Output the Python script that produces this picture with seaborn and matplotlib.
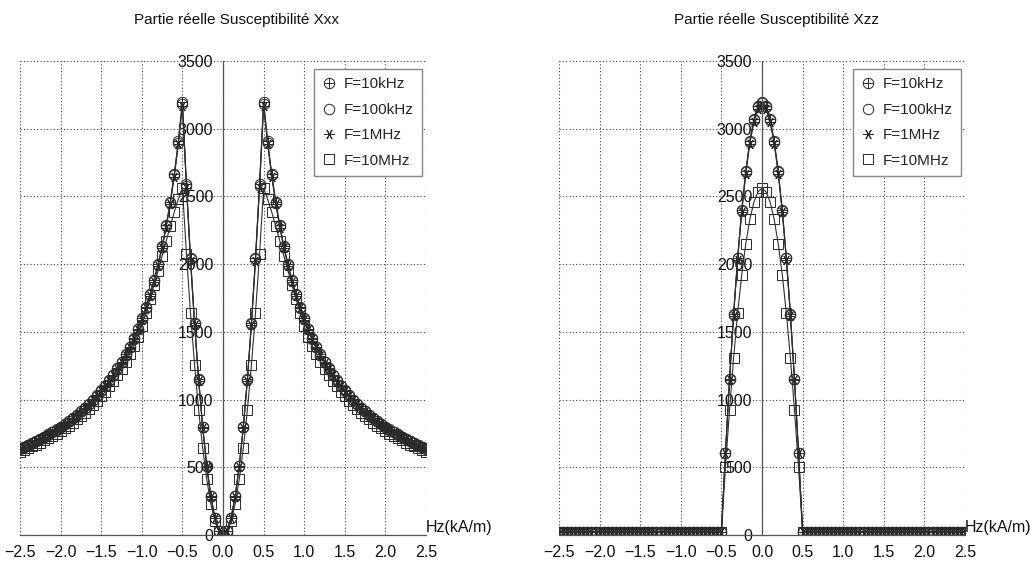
import numpy as np
import matplotlib
matplotlib.use("Agg")
import matplotlib.pyplot as plt
import seaborn as sns
from matplotlib.lines import Line2D
from matplotlib.path import Path
from matplotlib.ticker import MultipleLocator, FuncFormatter

sns.set_style("white")
plt.rcParams['font.family'] = ['Liberation Sans', 'DejaVu Sans']

# ---------------- data (half curves, H = 0 .. 2.5 step 0.05, symmetric) ----------------
H_half = np.round(np.arange(0, 51) * 0.05, 2)

labels = ["F=10kHz", "F=100kHz", "F=1MHz", "F=10MHz"]

xx_10k = [0, 32, 128, 288, 512, 800, 1152, 1568, 2048, 2592, 3200,
          2909, 2667, 2462, 2286, 2133, 2000, 1882, 1778, 1684, 1600,
          1524, 1455, 1391, 1333, 1280, 1231, 1185, 1143, 1103, 1067,
          1032, 1000, 970, 941, 914, 889, 865, 842, 821, 800,
          780, 762, 744, 727, 711, 696, 681, 667, 653, 640]
xx_100k = [0, 32, 127, 286, 509, 796, 1146, 1560, 2038, 2580, 3185,
           2898, 2657, 2453, 2278, 2126, 1993, 1876, 1772, 1679, 1595,
           1519, 1450, 1387, 1329, 1276, 1227, 1182, 1140, 1100, 1064,
           1029, 997, 967, 939, 912, 887, 863, 840, 819, 798,
           778, 760, 742, 725, 709, 694, 679, 665, 651, 638]
xx_1M = [0, 31, 126, 284, 505, 790, 1138, 1549, 2024, 2562, 3165,
         2884, 2646, 2444, 2270, 2119, 1987, 1871, 1767, 1674, 1590,
         1514, 1446, 1383, 1325, 1273, 1224, 1179, 1137, 1098, 1062,
         1027, 995, 965, 937, 910, 885, 861, 838, 817, 796,
         776, 758, 740, 723, 707, 692, 677, 663, 649, 636]
xx_10M = [0, 26, 102, 230, 410, 640, 922, 1254, 1638, 2074, 2560,
          2480, 2385, 2280, 2170, 2060, 1950, 1845, 1740, 1640, 1545,
          1463, 1396, 1336, 1280, 1229, 1182, 1138, 1097, 1059, 1024,
          991, 960, 931, 904, 878, 853, 830, 808, 788, 768,
          749, 731, 714, 698, 683, 668, 654, 640, 627, 614]

zz_10k_core = [3200, 3168, 3072, 2912, 2688, 2400, 2048, 1632, 1152, 608]
zz_100k_core = [3190, 3158, 3062, 2903, 2680, 2393, 2042, 1627, 1149, 606]
zz_1M_core = [3175, 3143, 3048, 2890, 2668, 2382, 2033, 1620, 1144, 603]
zz_10M_core = [2560, 2534, 2458, 2330, 2150, 1920, 1638, 1306, 922, 500]
zz_tail = [25, 25, 25, 25, 25, 25, 25, 25, 25, 25,
           25, 25, 25, 25, 25, 25, 25, 25, 25, 25,
           25, 25, 25, 25, 25, 25, 25, 25, 25, 25,
           25, 25, 25, 25, 25, 25, 25, 25, 25, 25, 25]

titles = ["Partie réelle Susceptibilité Xxx", "Partie réelle Susceptibilité Xzz"]
xlabel = "Hz(kA/m)"


def full(half):
    half = list(half)
    return half[:0:-1] + half


H = np.concatenate([-H_half[:0:-1], H_half])
panels = [
    [xx_10k, xx_100k, xx_1M, xx_10M],
    [zz_10k_core + zz_tail, zz_100k_core + zz_tail, zz_1M_core + zz_tail, zz_10M_core + zz_tail],
]

# circle-with-plus marker path
circ = Path.unit_circle()
plus_h = Path([(-1, 0), (1, 0)], [Path.MOVETO, Path.LINETO])
plus_v = Path([(0, -1), (0, 1)], [Path.MOVETO, Path.LINETO])
oplus = Path.make_compound_path(circ, plus_h, plus_v)

mk_color = "#2a2a2a"
styles = [
    dict(marker=oplus, markersize=7.5, markerfacecolor="none", markeredgewidth=0.7),
    dict(marker="o", markersize=7.5, markerfacecolor="none", markeredgewidth=0.7),
    dict(marker=(6, 2, 90), markersize=7.5, markeredgewidth=0.7),
    dict(marker="s", markersize=7.5, markerfacecolor="none", markeredgewidth=0.7),
]

W, Hpx = 1031, 563
fig = plt.figure(figsize=(W / 100, Hpx / 100), dpi=100)
axes_px = [(20, 28, 406, 474), (559, 28, 406, 474)]
title_x = [237, 776]

for pi, (series, (l, b, w, h)) in enumerate(zip(panels, axes_px)):
    ax = fig.add_axes([l / W, b / Hpx, w / W, h / Hpx])
    for vals, lab, st in zip(series, labels, styles):
        yv = np.array(full(vals), dtype=float)
        sns.lineplot(x=H, y=yv, ax=ax, sort=False, estimator=None,
                     color="#303030", linewidth=0.8, markeredgecolor=mk_color,
                     **st)
    ax.set_xlim(-2.5, 2.5)
    ax.set_ylim(0, 3500)
    ax.xaxis.set_major_locator(MultipleLocator(0.5))
    ax.xaxis.set_minor_locator(MultipleLocator(0.25))
    ax.yaxis.set_major_locator(MultipleLocator(500))
    ax.yaxis.set_minor_locator(MultipleLocator(250))
    ax.xaxis.set_major_formatter(FuncFormatter(lambda v, p: f"{v:.1f}".replace("-", "\u2212")))
    ax.yaxis.set_major_formatter(FuncFormatter(lambda v, p: f"{int(round(v))}"))
    for s in ["top", "right"]:
        ax.spines[s].set_visible(False)
    ax.spines["left"].set_position(("data", 0))
    ax.spines["bottom"].set_position(("data", 0))
    for s in ["left", "bottom"]:
        ax.spines[s].set_color("#555555")
        ax.spines[s].set_linewidth(0.9)
    ax.tick_params(which="both", direction="out", length=5, width=0.8, color="#555555",
                   labelsize=11.5, pad=2, labelcolor="#111111")
    ax.grid(True, which="major", linestyle=(0, (1, 2)), color="#444444", linewidth=0.8)
    ax.set_xlabel("")
    ax.set_ylabel("")
    ax.text(2.5, 0, xlabel, ha="left", va="bottom", fontsize=11.5, color="#111111",
            clip_on=False)
    handles = [Line2D([], [], linestyle="none", color="#303030", markeredgecolor=mk_color, **st)
               for st in styles]
    leg = ax.legend(handles, labels, loc="upper right", bbox_to_anchor=(0.99, 0.983),
                    borderaxespad=0, frameon=True, fancybox=False, edgecolor="#888888",
                    framealpha=1, fontsize=11, labelspacing=0.75, handletextpad=0.5,
                    borderpad=0.55, handlelength=0.9)
    leg.get_frame().set_linewidth(1.0)
    fig.text(title_x[pi] / W, 1 - 20 / Hpx, titles[pi], ha="center", va="center",
             fontsize=11, color="#111111")

fig.savefig("out.png", dpi=100)
